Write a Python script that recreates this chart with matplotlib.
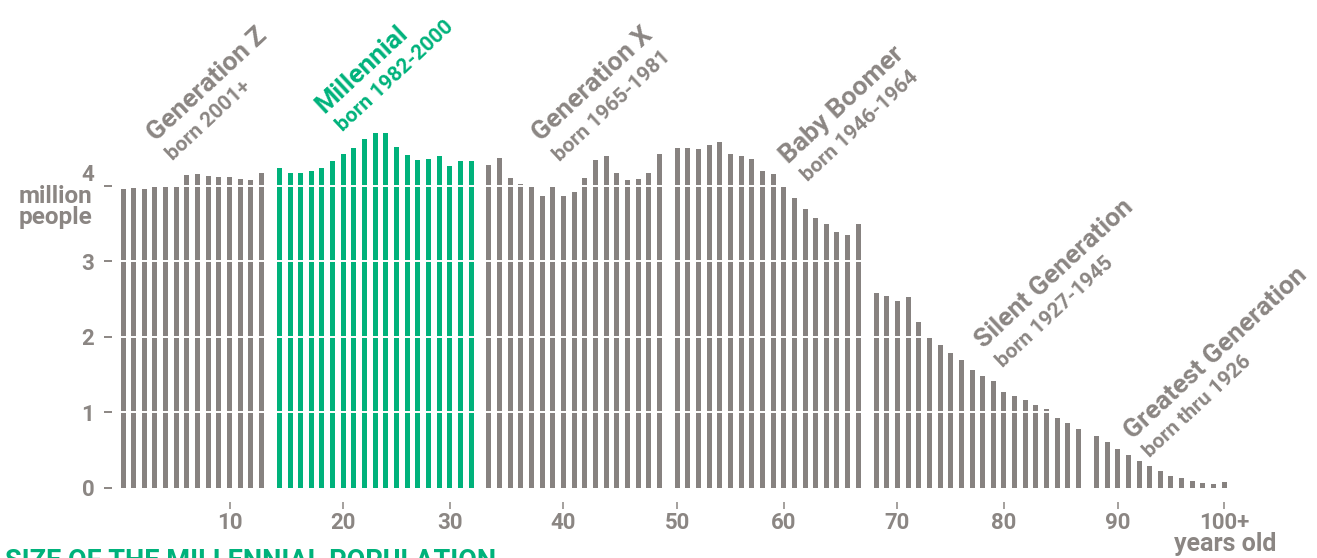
import matplotlib
matplotlib.use("Agg")
import matplotlib.pyplot as plt

# --- dades: població per edat (milions), edat 0..100+ ---
gen_z = [3.95, 3.97, 3.95, 3.98, 3.98, 3.98, 4.14, 4.15, 4.13, 4.11, 4.11, 4.09, 4.07, 4.17]
millennial = [4.23, 4.17, 4.17, 4.19, 4.23, 4.33, 4.42, 4.50, 4.62, 4.70, 4.70, 4.51, 4.40,
              4.34, 4.35, 4.39, 4.26, 4.33, 4.33]
gen_x = [4.27, 4.37, 4.10, 4.02, 3.98, 3.86, 3.98, 3.86, 3.92, 4.10, 4.34, 4.39, 4.17, 4.07,
         4.09, 4.17, 4.42]
boomer = [4.50, 4.50, 4.48, 4.54, 4.58, 4.42, 4.39, 4.35, 4.19, 4.15, 3.98, 3.84, 3.69, 3.57,
          3.49, 3.39, 3.35, 3.49]
silent = [2.58, 2.54, 2.47, 2.53, 2.20, 1.98, 1.89, 1.79, 1.69, 1.56, 1.48, 1.42, 1.27, 1.22,
          1.16, 1.10, 1.05, 0.93, 0.86, 0.78]
greatest = [0.69, 0.61, 0.52, 0.44, 0.36, 0.29, 0.22, 0.16, 0.13, 0.09, 0.07, 0.05, 0.08]

groups = [gen_z, millennial, gen_x, boomer, silent, greatest]
group_names = ["Generation Z", "Millennial", "Generation X", "Baby Boomer",
               "Silent Generation", "Greatest Generation"]
group_born = ["born 2001+", "born 1982-2000", "born 1965-1981", "born 1946-1964",
              "born 1927-1945", "born thru 1926"]
tick_ages = [10, 20, 30, 40, 50, 60, 70, 80, 90, 100]
tick_labels = ["10", "20", "30", "40", "50", "60", "70", "80", "90", "100+"]

GRAY = "#878280"
TXT = "#8b8683"
GREEN = "#00b27b"
GAP = 0.68  # separació extra entre generacions

plt.rcParams['font.family'] = ['Roboto', 'DejaVu Sans']
plt.rcParams['font.weight'] = 'bold'

W, H = 1317, 558
fig = plt.figure(figsize=(W / 100, H / 100), dpi=100)
ax = fig.add_axes([117.7 / W, 70 / H, 1112.9 / W, 362.9 / H])

# --- barres ---
age = 0
pos_of_age = {}
for gi, vals in enumerate(groups):
    xs = []
    for v in vals:
        pos_of_age[age] = age + GAP * gi
        xs.append(pos_of_age[age])
        age += 1
    ax.bar(xs, vals, width=0.47, color=GREEN if gi == 1 else GRAY, zorder=2)

# línies blanques horitzontals
for yv in [1, 2, 3, 4]:
    ax.axhline(yv, color="white", lw=1.4, zorder=3)

ax.set_xlim(-0.5, 104)
ax.set_ylim(0, 4.8)

for s in ["top", "right"]:
    ax.spines[s].set_visible(False)
ax.spines["left"].set_position(("outward", 4.1))
ax.spines["bottom"].set_position(("outward", 10))
ax.spines["left"].set_visible(False)
ax.spines["bottom"].set_visible(False)

ax.set_yticks([0, 1, 2, 3, 4])
ax.set_yticklabels(["0", "1", "2", "3", "4"])
ax.tick_params(axis="y", length=5.8, width=1.4, color=TXT, labelcolor=TXT,
               labelsize=16, pad=7)
ax.get_yticklabels()[-1].set_va("bottom")

ax.set_xticks([pos_of_age[a] for a in tick_ages])
ax.set_xticklabels(tick_labels)
ax.tick_params(axis="x", length=5, width=1.1, color=TXT, labelcolor=TXT,
               labelsize=16, pad=2)

# --- textos ---
def px(x, y):
    return x / W, 1 - y / H

fig.text(*px(92, 185), "million\npeople", ha="right", va="top", multialignment="right",
         linespacing=0.88, fontsize=17.5, color=TXT)
fig.text(*px(1225, 551), "years old", ha="center", va="baseline", fontsize=18, color=TXT)

label_pos = [((156, 142), (173, 161)), ((324, 114), (343, 132)), ((541, 142), (560, 162)),
             ((789, 164), (808, 182)), ((984, 349), (1003, 368)), ((1133, 440), (1150, 458))]
for gi, (name, born) in enumerate(zip(group_names, group_born)):
    col = GREEN if gi == 1 else TXT
    (x1, y1), (x2, y2) = label_pos[gi]
    fig.text(*px(x1, y1), name, rotation=43, rotation_mode="anchor", ha="left",
             va="baseline", fontsize=19, color=col)
    fig.text(*px(x2, y2), born, rotation=43, rotation_mode="anchor", ha="left",
             va="baseline", fontsize=15, color=col)

fig.text(*px(5, 548), "SIZE OF THE MILLENNIAL POPULATION", ha="left", va="top",
         fontsize=19.5, color=GREEN)

fig.savefig("out.png", dpi=100)
